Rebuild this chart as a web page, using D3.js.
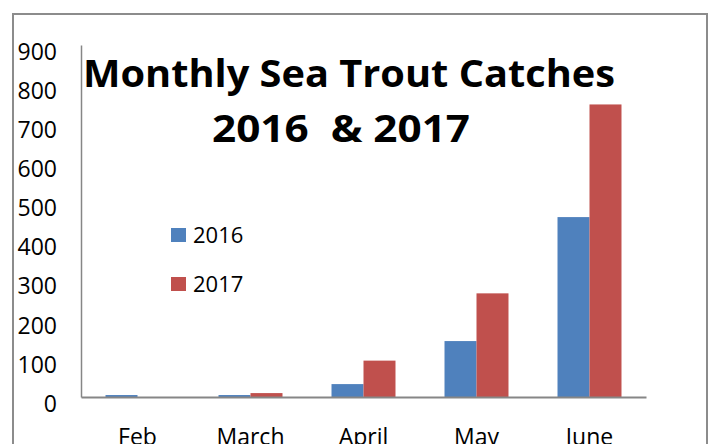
<!DOCTYPE html>
<html>
<head>
<meta charset="utf-8">
<script src="https://cdn.jsdelivr.net/npm/d3@7"></script>
<style>
  html, body { margin: 0; padding: 0; background: #fff; overflow: hidden; }
  svg { display: block; font-family: "Open Sans", sans-serif; }
</style>
</head>
<body>
<svg id="chart"></svg>
<script>
const width = 713;
const height = 444;

// data
const months = ["Feb", "March", "April", "May", "June"];
const series = ["2016", "2017"];
const catches2016 = [5, 5, 33, 143, 460];
const catches2017 = [0, 10, 93, 265, 748];
const yTicks = [0, 100, 200, 300, 400, 500, 600, 700, 800, 900];
const titleLines = ["Monthly Sea Trout Catches", "2016  & 2017"];

const colors = { "2016": "#4F81BD", "2017": "#C0504D" };

const rows = months.map((m, i) => ({ month: m, "2016": catches2016[i], "2017": catches2017[i] }));

const plot = { left: 81, right: 646, top: 45, bottom: 397 };

const svg = d3.select("#chart")
    .attr("width", width)
    .attr("height", height);

// outer chart frame (runs off the bottom)
svg.append("rect")
    .attr("x", 13).attr("y", 14)
    .attr("width", 694).attr("height", 460)
    .attr("fill", "none")
    .attr("stroke", "#8c8c8c")
    .attr("stroke-width", 2);

const x0 = d3.scaleBand()
    .domain(months)
    .range([plot.left, plot.right])
    .padding(0);

const x1 = d3.scaleBand()
    .domain(series)
    .range([0, x0.bandwidth()])
    .paddingInner(0)
    .paddingOuter(0.766);

const y = d3.scaleLinear()
    .domain([0, 900])
    .range([plot.bottom, plot.top]);

// bars
const group = svg.append("g").selectAll("g")
    .data(rows)
    .enter().append("g")
    .attr("transform", d => `translate(${x0(d.month)},0)`);

group.selectAll("rect")
    .data(d => series.map(s => ({ key: s, value: d[s] })))
    .enter().append("rect")
    .attr("x", d => x1(d.key))
    .attr("width", x1.bandwidth())
    .attr("y", d => y(d.value))
    .attr("height", d => y(0) - y(d.value))
    .attr("fill", d => colors[d.key]);

// y axis
const yAxis = d3.axisLeft(y).tickValues(yTicks).tickSize(0).tickPadding(24);
const gy = svg.append("g")
    .attr("transform", `translate(${plot.left},0)`)
    .call(yAxis);
gy.select(".domain").attr("stroke", "#868686").attr("stroke-width", 1.5);
gy.selectAll("text")
    .attr("font-size", 23)
    .attr("font-family", "Open Sans, sans-serif")
    .attr("fill", "#000")
    .attr("dy", "0.62em");

// x axis (labels sit partly below the page edge, as in the original)
const xAxis = d3.axisBottom(x0).tickSize(0).tickPadding(32);
const gx = svg.append("g")
    .attr("transform", `translate(0,${plot.bottom})`)
    .call(xAxis);
gx.select(".domain").attr("stroke", "#868686").attr("stroke-width", 2);
gx.selectAll("text")
    .attr("font-size", 23)
    .attr("font-family", "Open Sans, sans-serif")
    .attr("fill", "#000");

// title
const titleX = [349, 341];
const titleY = [87, 142];
const titleW = [532, 258];
svg.append("g").selectAll("text")
    .data(titleLines)
    .enter().append("text")
    .attr("x", (d, i) => titleX[i] - titleW[i] / 2)
    .attr("y", (d, i) => titleY[i])
    .attr("textLength", (d, i) => titleW[i])
    .attr("lengthAdjust", "spacingAndGlyphs")
    .attr("font-weight", "bold")
    .attr("font-size", 38)
    .style("white-space", "pre")
    .attr("fill", "#000")
    .text(d => d);

// legend
const legend = svg.append("g").selectAll("g")
    .data(series)
    .enter().append("g")
    .attr("transform", (d, i) => `translate(171,${228 + i * 49})`);

legend.append("rect")
    .attr("width", 15).attr("height", 14)
    .attr("fill", d => colors[d]);

legend.append("text")
    .attr("x", 22).attr("y", 15)
    .attr("font-size", 22)
    .attr("fill", "#000")
    .text(d => d);
</script>
</body>
</html>
